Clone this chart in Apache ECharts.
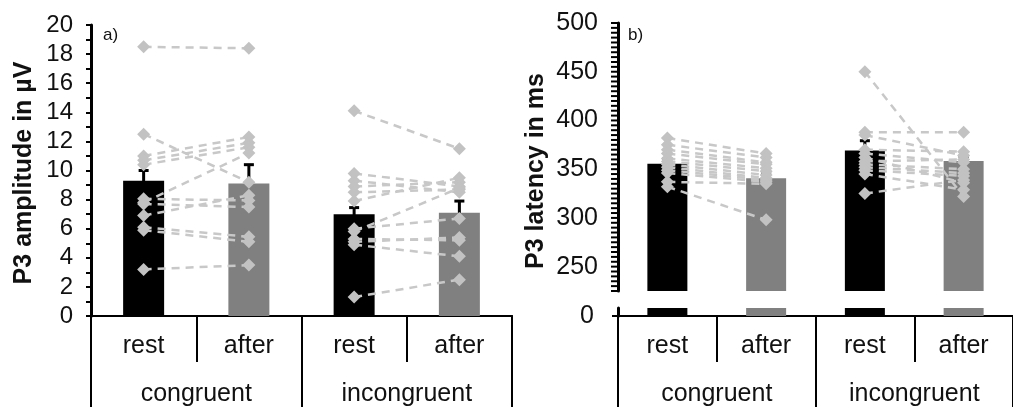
<!DOCTYPE html>
<html>
<head>
<meta charset="utf-8">
<script src="https://cdn.jsdelivr.net/npm/echarts@6/dist/echarts.min.js"></script>
<style>
  html, body { margin: 0; padding: 0; background: #fff; }
  #main { width: 1013px; height: 407px; }
</style>
</head>
<body>
<div id="main"></div>
<script>
// conditions
var categories = ['rest', 'after', 'rest', 'after'];
var groups = ['congruent', 'incongruent'];

// y tick labels
var ampTickLabels = [0, 2, 4, 6, 8, 10, 12, 14, 16, 18, 20];
var latTickLabels = [250, 300, 350, 400, 450, 500];

// bar means and standard errors
var ampMeans = [9.3, 9.1, 7.0, 7.1];
var ampErr = [0.7, 1.3, 0.45, 0.8];
var latMeans = [355.5, 340.8, 369.2, 358.3];
var latErr = [5, 5, 10, 5];

// single subjects, a) amplitude
var ampCongRest  = [18.5, 12.5, 11.0, 10.7, 10.4, 8.05, 7.8, 7.7, 6.9, 6.1, 5.9, 3.2];
var ampCongAfter = [18.4, 9.2, 12.3, 11.9, 11.6, 7.94, 11.2, 7.49, 8.3, 5.44, 5.1, 3.5];
var ampIncRest   = [14.1, 9.8, 9.3, 8.9, 8.5, 7.9, 6.0, 5.8, 5.3, 5.1, 4.9, 1.3];
var ampIncAfter  = [11.5, 8.9, 8.5, 9.2, 8.7, 9.5, 6.7, 8.8, 5.2, 5.4, 4.1, 2.5];

// single subjects, b) latency
var latCongRest  = [382, 375, 370, 366, 361, 358, 355, 352, 349, 346, 337, 332];
var latCongAfter = [366, 362, 357, 355, 351, 348, 344, 341, 339, 337, 335, 298];
var latIncRest   = [450, 388, 385, 370, 366, 362, 358, 355, 352, 349, 345, 325];
var latIncAfter  = [322, 388, 364, 368, 357, 336, 360, 350, 346, 343, 329, 339];

var FONT = 'Liberation Sans';
var barColors = ['#000000', '#808080', '#000000', '#808080'];

// small ticks every 5 ms on the broken latency axis
var latTicks = [];
for (var t = 225; t <= 500; t += 5) latTicks.push(t);

function catAxis(grid, data, tickLen, margin, show) {
  return {
    type: 'category', gridIndex: grid, data: data, position: 'bottom',
    show: show !== false,
    axisLine: { lineStyle: { color: '#000', width: 2 } },
    axisTick: { show: true, interval: 0, length: tickLen, lineStyle: { color: '#000', width: 2 } },
    axisLabel: { interval: 0, margin: margin, color: '#111', fontSize: 25, fontFamily: FONT }
  };
}

function barSeries(xi, yi, means, width) {
  return {
    type: 'bar', xAxisIndex: xi, yAxisIndex: yi, barWidth: width, clip: true,
    data: means.map(function (v, i) { return { value: v, itemStyle: { color: barColors[i] } }; })
  };
}

function errSeries(xi, yi, means, err) {
  return {
    type: 'custom', xAxisIndex: xi, yAxisIndex: yi, silent: true,
    data: means.map(function (m, i) { return [i, m - err[i], m + err[i]]; }),
    renderItem: function (params, api) {
      var lo = api.coord([api.value(0), api.value(1)]);
      var hi = api.coord([api.value(0), api.value(2)]);
      var st = { stroke: '#000', lineWidth: 3 };
      return {
        type: 'group', children: [
          { type: 'line', shape: { x1: hi[0], y1: hi[1], x2: lo[0], y2: lo[1] }, style: st },
          { type: 'line', shape: { x1: hi[0] - 5, y1: hi[1], x2: hi[0] + 5, y2: hi[1] }, style: st },
          { type: 'line', shape: { x1: lo[0] - 5, y1: lo[1], x2: lo[0] + 5, y2: lo[1] }, style: st }
        ]
      };
    }
  };
}

// tick marks of the latency axis, drawn through the axis scale
function tickSeries(xi, yi, values, len) {
  return {
    type: 'custom', xAxisIndex: xi, yAxisIndex: yi, silent: true, clip: false, z: 10,
    data: values.map(function (v) { return [0, v]; }),
    renderItem: function (params, api) {
      var p = api.coord([0, api.value(1)]);
      var x0 = params.coordSys.x;
      return {
        type: 'line',
        shape: { x1: x0 - len, y1: p[1], x2: x0, y2: p[1] },
        style: { stroke: '#000', lineWidth: 2 }
      };
    }
  };
}

function subjectSeries(xi, yi, rest, after, offset) {
  return rest.map(function (r, k) {
    var d = ['-', '-', '-', '-'];
    d[offset] = r;
    d[offset + 1] = after[k];
    return {
      type: 'line', xAxisIndex: xi, yAxisIndex: yi, data: d, silent: true,
      symbol: 'diamond', symbolSize: 13,
      itemStyle: { color: '#c2c2c2' },
      lineStyle: { color: '#c8c8c8', width: 2.5, type: [8, 6] }
    };
  });
}

var series = [
  barSeries(0, 0, ampMeans, 41),
  errSeries(0, 0, ampMeans, ampErr),
  barSeries(2, 1, latMeans, 40),
  errSeries(2, 1, latMeans, latErr),
  barSeries(3, 2, latMeans, 40),
  tickSeries(2, 1, latTicks, 7)
];
series = series
  .concat(subjectSeries(0, 0, ampCongRest, ampCongAfter, 0))
  .concat(subjectSeries(0, 0, ampIncRest, ampIncAfter, 2))
  .concat(subjectSeries(2, 1, latCongRest, latCongAfter, 0))
  .concat(subjectSeries(2, 1, latIncRest, latIncAfter, 2));

var option = {
  animation: false,
  backgroundColor: '#fff',
  textStyle: { fontFamily: FONT },
  grid: [
    { left: 91, top: 25, width: 421, bottom: 88 },
    { left: 618, top: 23, width: 405, height: 268 },
    { left: 618, top: 308, width: 405, bottom: 89 }
  ],
  xAxis: [
    catAxis(0, categories, 46, 18),
    catAxis(0, groups, 100, 66),
    catAxis(1, categories, 0, 0, false),
    catAxis(2, categories, 46, 18),
    catAxis(2, groups, 100, 66)
  ],
  yAxis: [
    {
      type: 'value', gridIndex: 0, min: 0, max: 20, interval: 1,
      splitLine: { show: false },
      axisLine: { show: true, lineStyle: { color: '#000', width: 3 } },
      axisTick: { show: true, length: 5, lineStyle: { color: '#000', width: 2 } },
      axisLabel: {
        margin: 18, color: '#111', fontSize: 24, fontFamily: FONT,
        customValues: ampTickLabels
      }
    },
    {
      type: 'value', gridIndex: 1, min: 225, max: 500,
      splitLine: { show: false },
      axisLine: { show: true, lineStyle: { color: '#000', width: 3 } },
      axisTick: { show: false },
      axisLabel: {
        margin: 20, color: '#111', fontSize: 25, fontFamily: FONT,
        customValues: latTickLabels
      }
    },
    {
      type: 'value', gridIndex: 2, min: 0, max: 10,
      splitLine: { show: false },
      axisLine: { show: true, lineStyle: { color: '#000', width: 3 } },
      axisTick: { show: true, length: 6, customValues: [0], lineStyle: { color: '#000', width: 2 } },
      axisLabel: {
        margin: 24, color: '#111', fontSize: 25, fontFamily: FONT, customValues: [0]
      }
    }
  ],
  graphic: [
    { type: 'text', x: 24, y: 173, rotation: Math.PI / 2,
      style: { text: 'P3 amplitude in µV', font: 'bold 25px "Liberation Sans"', fill: '#111', align: 'center', verticalAlign: 'middle' } },
    { type: 'text', x: 536, y: 171, rotation: Math.PI / 2,
      style: { text: 'P3 latency in ms', font: 'bold 25px "Liberation Sans"', fill: '#111', align: 'center', verticalAlign: 'middle' } },
    { type: 'text', x: 103, y: 35,
      style: { text: 'a)', font: '17px "Liberation Sans"', fill: '#111', verticalAlign: 'middle' } },
    { type: 'text', x: 628, y: 35,
      style: { text: 'b)', font: '17px "Liberation Sans"', fill: '#111', verticalAlign: 'middle' } }
  ],
  series: series
};

var chart = echarts.init(document.getElementById('main'));
chart.setOption(option);
</script>
</body>
</html>
